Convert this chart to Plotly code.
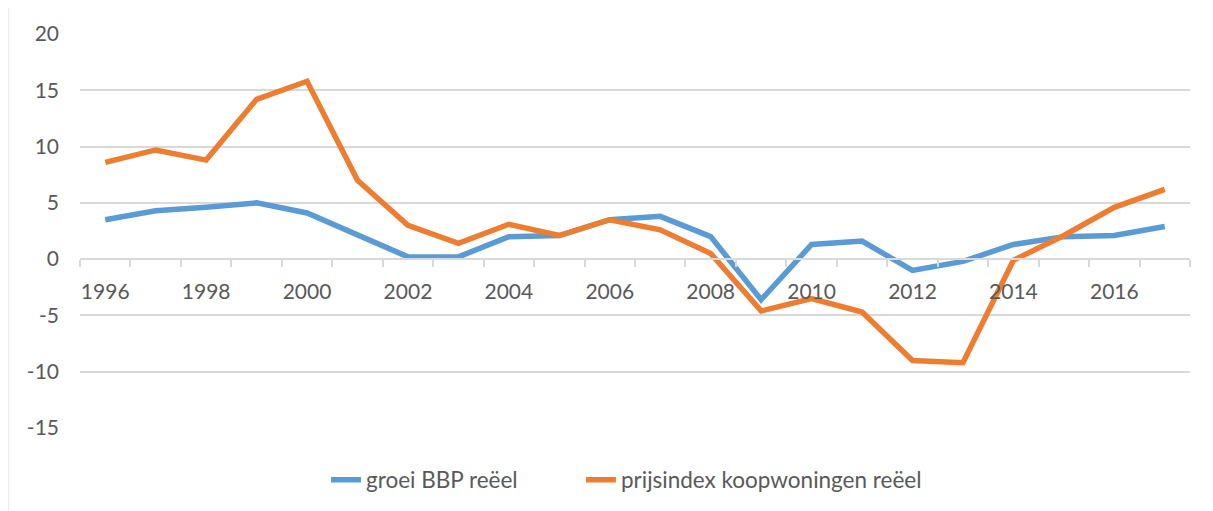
import plotly.graph_objects as go

years = list(range(1996, 2018))
bbp = [3.5, 4.3, 4.6, 5.0, 4.1, 2.2, 0.2, 0.2, 2.0, 2.1, 3.5, 3.8, 2.0, -3.6,
       1.3, 1.6, -1.0, -0.2, 1.3, 2.0, 2.1, 2.9]
prijs = [8.6, 9.7, 8.8, 14.2, 15.8, 7.0, 3.0, 1.4, 3.1, 2.1, 3.5, 2.6, 0.5, -4.6,
         -3.5, -4.7, -9.0, -9.2, -0.1, 2.1, 4.6, 6.2]
names = ["groei BBP reëel", "prijsindex koopwoningen reëel"]
colors = ["#5B9BD5", "#ED7D31"]
x_ticks = list(range(1996, 2018, 2))
y_ticks = [-15, -10, -5, 0, 5, 10, 15, 20]

fig = go.Figure()
for name, vals, col, leg in zip(names, [bbp, prijs], colors, ["legend", "legend2"]):
    fig.add_trace(go.Scatter(x=years, y=vals, name=name, mode="lines",
                             line=dict(color=col, width=5.5), legend=leg))

ymin, ymax = -15, 20
FONT = "Lato, Carlito, Calibri, sans-serif"
leg_common = dict(orientation="h", xanchor="left", y=-0.132, yanchor="middle",
                  font=dict(family=FONT, size=22.5, color="#595959"),
                  bgcolor="rgba(0,0,0,0)")
fig.update_layout(
    width=1205, height=503,
    margin=dict(l=72, r=23, t=26, b=83, autoexpand=False),
    paper_bgcolor="white", plot_bgcolor="white",
    font=dict(family=FONT, size=21, color="#595959"),
    xaxis=dict(
        range=[1995.5, 2017.5], tickvals=x_ticks, ticktext=[str(v) for v in x_ticks],
        ticks="", showgrid=False, zeroline=False,
        showline=True, linecolor="#D9D9D9", linewidth=2,
        anchor="free", position=(0 - ymin) / (ymax - ymin),
        ticklabelstandoff=14,
        minor=dict(ticks="outside", ticklen=7, tickwidth=2, tickcolor="#D9D9D9",
                   tick0=1995.5, dtick=1, showgrid=False),
        tickfont=dict(family=FONT, size=21, color="#595959"),
    ),
    yaxis=dict(
        range=[ymin, ymax], tickvals=y_ticks, ticktext=[str(v) for v in y_ticks],
        showgrid=True, gridcolor="#D9D9D9",
        gridwidth=2, zeroline=False, showline=False, ticks="",
        ticklabelstandoff=20, tickfont=dict(family=FONT, size=21, color="#595959"),
    ),
    legend=dict(x=0.2216, **leg_common),
    legend2=dict(x=0.4513, **leg_common),
    showlegend=True,
    shapes=[dict(type="rect", xref="paper", yref="paper",
                 x0=(8 - 80) / 1110, x1=1.05, y0=-0.3, y1=(428 - 4) / 394,
                 line=dict(color="#D9D9D9", width=1), layer="below")],
)

fig.write_html("out.html")
